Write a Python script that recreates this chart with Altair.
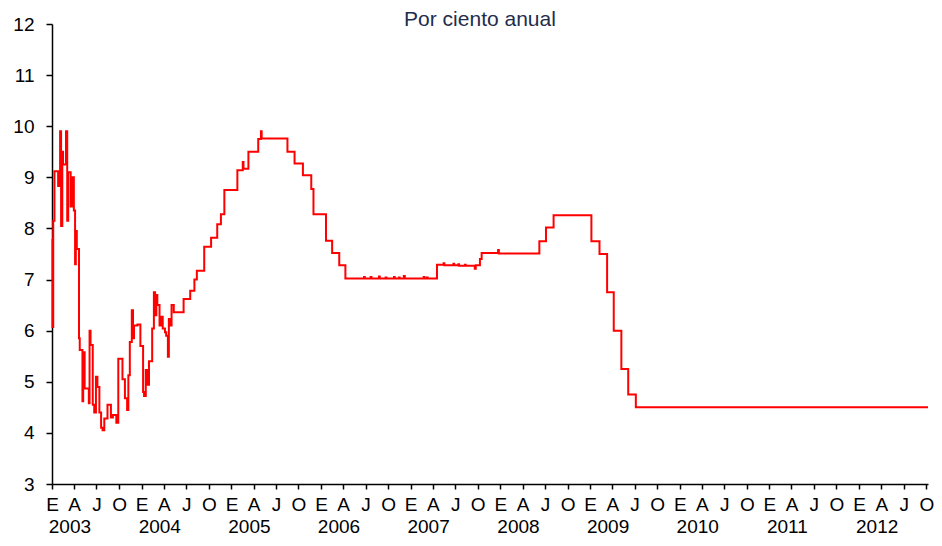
import altair as alt
import pandas as pd

# Días transcurridos desde 2003-01-01 y tasa (por ciento anual)
dias = [0, 2, 5, 10, 25, 33, 37, 42, 45, 57, 62, 66, 76, 81, 89, 94, 97, 101, 110, 113,
        124, 127, 133, 150, 153, 157, 166, 172, 179, 185, 193, 200, 206, 213, 226, 240, 248,
        262, 270, 287, 297, 306, 311, 317, 325, 330, 334, 348, 360,
        371, 375, 382, 388, 395, 408, 415, 420, 425, 429, 438, 446, 451, 460, 465, 472, 476,
        482, 487, 496, 536, 563, 580, 590, 620, 648, 673, 688, 702,
        755, 777, 780, 800, 840, 851, 854, 959, 988, 1022, 1056, 1065, 1116, 1141, 1170, 1195,
        1271, 1274, 1298, 1301, 1332, 1335, 1359, 1362, 1393, 1396, 1413, 1416, 1433, 1437,
        1514, 1517, 1527, 1530,
        1568, 1595, 1598, 1635, 1638, 1655, 1658, 1682, 1685, 1722, 1726, 1743, 1750, 1817, 1820,
        1985, 2012, 2043, 2197, 2230, 2261, 2288, 2319, 2347, 2378, 3568]
tasa = [7.8, 6.07, 8.15, 9.12, 8.83, 9.9, 8.05, 9.5, 9.25, 9.9, 8.15, 9.1, 8.43, 9.0, 8.35, 7.3, 7.95, 7.6, 5.85, 5.62,
        4.62, 5.58, 4.87, 4.58, 6.0, 5.72, 4.55, 4.4, 5.1, 4.9, 4.4, 4.1, 4.05, 4.28, 4.55, 4.3, 4.35,
        4.2, 5.45, 5.05, 4.68, 4.45, 5.13, 5.78, 6.4, 5.85, 6.1, 6.12, 5.7,
        4.8, 4.72, 5.23, 4.94, 5.4, 6.04, 6.75, 6.3, 6.7, 6.5, 6.1, 6.27, 6.04, 5.97, 5.9, 5.49, 6.23,
        6.1, 6.5, 6.36, 6.62, 6.78, 7.0, 7.17, 7.64, 7.82, 8.08, 8.28, 8.75,
        9.14, 9.3, 9.17, 9.5, 9.75, 9.9, 9.76, 9.5, 9.27, 9.04, 8.77, 8.28, 7.76, 7.52, 7.28, 7.02,
        7.05, 7.02, 7.05, 7.02, 7.06, 7.02, 7.04, 7.02, 7.05, 7.02, 7.04, 7.02, 7.07, 7.02,
        7.05, 7.02, 7.04, 7.02,
        7.29, 7.32, 7.28, 7.31, 7.28, 7.3, 7.27, 7.29, 7.27, 7.21, 7.28, 7.4, 7.52, 7.58, 7.51,
        7.75, 8.02, 8.26, 7.75, 7.5, 6.75, 6.0, 5.25, 4.75, 4.5, 4.5]

anios = [2003, 2004, 2005, 2006, 2007, 2008, 2009, 2010, 2011, 2012]
letras_trimestre = ["E", "A", "J", "O"]
meses_trimestre = [1, 4, 7, 10]
valores_y = [3, 4, 5, 6, 7, 8, 9, 10, 11, 12]
titulo = "Por ciento anual"

fecha = pd.Timestamp("2003-01-01") + pd.to_timedelta(dias, unit="D")
df = pd.DataFrame({"fecha": fecha, "tasa": tasa})
df_anios = pd.DataFrame({
    "fecha": pd.to_datetime([f"{a}-03-15" for a in anios]),
    "anio": [str(a) for a in anios],
})
df_titulo = pd.DataFrame({"titulo": [titulo]})

W, H = 876, 460
FONT = "Liberation Sans"

ticks_x = [alt.DateTime(year=a, month=m, date=1) for a in anios for m in meses_trimestre]
label_expr = "[" + ",".join(f"'{l}'" for l in letras_trimestre) + "][floor(month(datum.value)/3)]"

x_scale = alt.Scale(domain=[alt.DateTime(year=2003, month=1, date=1),
                            alt.DateTime(year=2012, month=10, date=8)])
x_axis = alt.Axis(values=ticks_x, labelExpr=label_expr, tickSize=5, labelPadding=6,
                  labelFontSize=19, labelFont=FONT, labelColor="black", tickCount=40,
                  labelFlush=False, labelOverlap=False, labelBound=False, grid=False,
                  domainColor="black", tickColor="black", domainWidth=1.5, tickWidth=1.5)

linea = alt.Chart(df).mark_line(color="#FF0000", strokeWidth=2, interpolate="step-after").encode(
    x=alt.X("fecha:T", scale=x_scale, title=None, axis=x_axis),
    y=alt.Y("tasa:Q", scale=alt.Scale(domain=[3, 12], nice=False, zero=False), title=None,
            axis=alt.Axis(values=valores_y, tickSize=6, labelPadding=12, labelFontSize=19,
                          labelFont=FONT, labelColor="black", grid=False,
                          domainColor="black", tickColor="black", domainWidth=1.5, tickWidth=1.5)),
)

textos_anio = alt.Chart(df_anios).mark_text(
    font=FONT, fontSize=19, color="black", align="center", baseline="alphabetic"
).encode(
    x=alt.X("fecha:T", scale=x_scale, title=None, axis=x_axis),
    y=alt.value(H + 49),
    text="anio:N",
)

texto_titulo = alt.Chart(df_titulo).mark_text(
    font=FONT, fontSize=21, color="#1F2D4D", align="center", baseline="alphabetic"
).encode(
    x=alt.value(428),
    y=alt.value(2),
    text="titulo:N",
)

chart = alt.layer(linea, textos_anio, texto_titulo).properties(
    width=W,
    height=H,
    autosize=alt.AutoSizeParams(type="none"),
    padding={"left": 44, "top": 16, "right": 6, "bottom": 54},
).configure_view(stroke=None)

chart.save("out.html", embed_options={"renderer": "svg", "actions": False})
